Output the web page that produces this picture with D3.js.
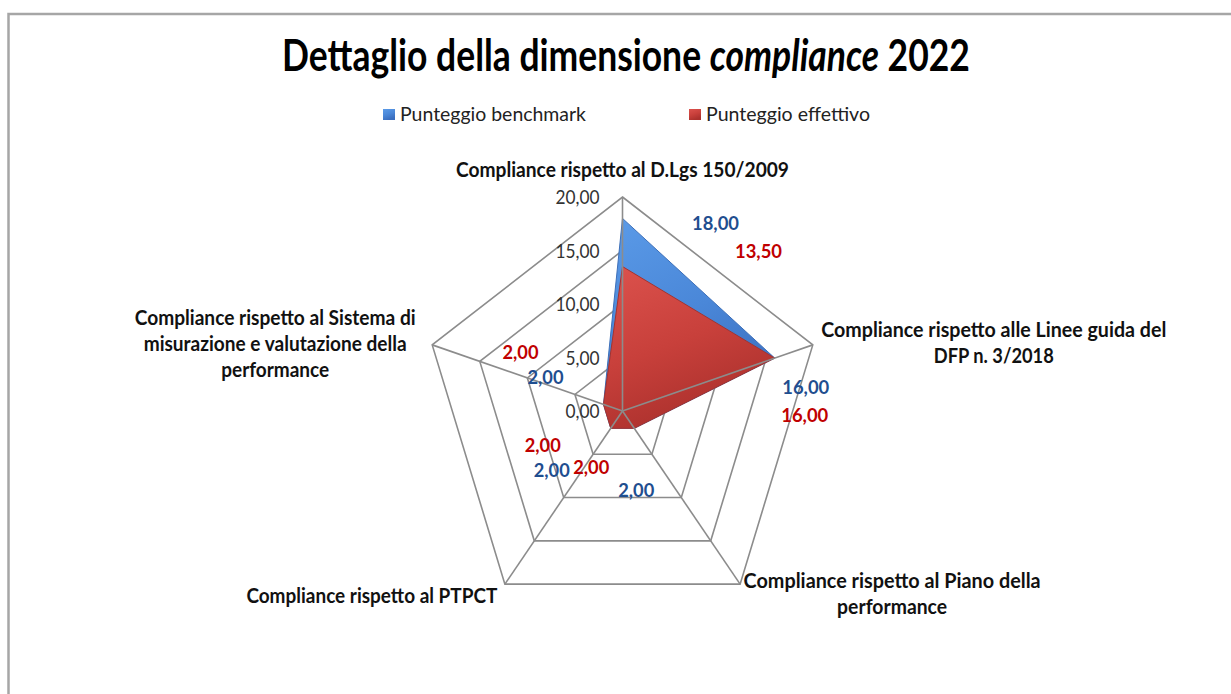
<!DOCTYPE html>
<html>
<head>
<meta charset="utf-8">
<script src="https://cdn.jsdelivr.net/npm/d3@7"></script>
<style>
  body { margin: 0; background: #fff; }
  text { font-family: Lato, "Open Sans", sans-serif; }
</style>
</head>
<body>
<div id="canvas"></div>
<script>
// categories (one entry per axis, already split in lines as in the picture)
const categories = [
  ["Compliance rispetto al D.Lgs 150/2009"],
  ["Compliance rispetto alle Linee guida del", "DFP n. 3/2018"],
  ["Compliance rispetto al Piano della", "performance"],
  ["Compliance rispetto al PTPCT"],
  ["Compliance rispetto al Sistema di", "misurazione e valutazione della", "performance"]
];
const seriesNames = ["Punteggio benchmark", "Punteggio effettivo"];
const benchmark = [18, 16, 2, 2, 2];
const effettivo = [13.5, 16, 2, 2, 2];
const tickValues = [0, 5, 10, 15, 20];

const W = 1231, H = 694;
const cx = 622.5, cy = 411, R = 214, sx = 0.935;
const fmt = v => d3.format(".2f")(v).replace(".", ",");

let svg = d3.select("#canvas")
  .append("svg")
    .attr("width", W)
    .attr("height", H);

let defs = svg.append("defs");
function grad(id, c1, c2, c3) {
  let g = defs.append("linearGradient").attr("id", id)
    .attr("x1", 0).attr("y1", 0).attr("x2", 0.4).attr("y2", 1);
  g.append("stop").attr("offset", "0%").attr("stop-color", c1);
  g.append("stop").attr("offset", "55%").attr("stop-color", c2);
  g.append("stop").attr("offset", "100%").attr("stop-color", c3);
}
grad("gBlue", "#5b9be8", "#4a87d8", "#3a6ebf");
grad("gRed", "#dc524d", "#c8403b", "#ac312d");

// frame
svg.append("rect")
  .attr("x", 8.5).attr("y", 14)
  .attr("width", W).attr("height", H)
  .attr("fill", "none").attr("stroke", "#a6a6a6").attr("stroke-width", 2.5);

// title: natural font, then squeezed to the reference width
let title = svg.append("text")
  .attr("x", 0).attr("y", 0)
  .attr("text-anchor", "middle")
  .attr("font-size", 44).attr("font-weight", "bold").attr("fill", "#000");
title.append("tspan").text("Dettaglio della dimensione ");
title.append("tspan").attr("font-style", "italic").text("compliance");
title.append("tspan").text(" 2022");
let tw = title.node().getComputedTextLength();
title.attr("transform", `translate(626,71) scale(${688 / tw},1)`);

// legend
const legendX = [383, 689];
const legendW = [186, 164];
const legendFill = ["url(#gBlue)", "url(#gRed)"];
seriesNames.forEach((s, i) => {
  svg.append("rect")
    .attr("x", legendX[i]).attr("y", 109)
    .attr("width", 12).attr("height", 11)
    .attr("fill", legendFill[i]);
  svg.append("text")
    .attr("x", legendX[i] + 17).attr("y", 121)
    .attr("font-size", 20).attr("fill", "#222")
    .attr("textLength", legendW[i]).attr("lengthAdjust", "spacingAndGlyphs")
    .text(s);
});

// scales
let r = d3.scaleLinear().domain([0, 20]).range([0, R]);
let angle = d3.scaleLinear().domain([0, categories.length]).range([0, 2 * Math.PI]);
function pt(i, v) {
  let a = angle(i);
  return [cx + sx * r(v) * Math.sin(a), cy - r(v) * Math.cos(a)];
}

let radar = svg.append("g");
let idx = d3.range(categories.length);

// rings
let line = d3.line().curve(d3.curveLinearClosed);
radar.selectAll("path.ring")
  .data(tickValues.filter(t => t > 0))
  .enter()
  .append("path")
    .attr("class", "ring")
    .attr("d", t => line(idx.map(i => pt(i, t))))
    .attr("fill", "none")
    .attr("stroke", "#8c8c8c")
    .attr("stroke-width", 1.6);

// series
const series = [
  {vals: benchmark, fill: "url(#gBlue)", edge: "#3d6fb8", color: "#1f4e8f"},
  {vals: effettivo, fill: "url(#gRed)", edge: "#a33330", color: "#c00000"}
];
series.forEach(s => {
  radar.append("path")
    .attr("d", line(s.vals.map((v, i) => pt(i, v))))
    .attr("fill", s.fill)
    .attr("stroke", s.edge)
    .attr("stroke-width", 1)
    .attr("stroke-linejoin", "round");
});

// spokes
radar.selectAll("line.spoke")
  .data(idx)
  .enter()
  .append("line")
    .attr("x1", cx).attr("y1", cy)
    .attr("x2", i => pt(i, 20)[0])
    .attr("y2", i => pt(i, 20)[1])
    .attr("stroke", "#8c8c8c")
    .attr("stroke-width", 1.6);

// tick labels
svg.selectAll("text.tick")
  .data(tickValues)
  .enter()
  .append("text")
    .attr("x", cx - 23)
    .attr("y", t => cy - r(t) + 7)
    .attr("text-anchor", "end")
    .attr("font-size", 19)
    .attr("fill", "#333")
    .attr("textLength", t => t >= 10 ? 44 : 34)
    .attr("lengthAdjust", "spacingAndGlyphs")
    .text(fmt);

// data labels (offsets from the point, like Excel placed them)
const labelOffsets = [
  [[93, 5], [31, 29], [2, 62], [-59, 42], [-58, -27]],
  [[136, -16], [30, 57], [-43, 39], [-68, 17], [-83, -52]]
];
series.forEach((s, k) => {
  svg.selectAll(null)
    .data(s.vals)
    .enter()
    .append("text")
      .attr("x", (v, i) => pt(i, v)[0] + labelOffsets[k][i][0])
      .attr("y", (v, i) => pt(i, v)[1] + labelOffsets[k][i][1] + 7)
      .attr("text-anchor", "middle")
      .attr("font-size", 19)
      .attr("font-weight", "bold")
      .attr("fill", s.color)
      .attr("textLength", v => v >= 10 ? 47 : 36)
      .attr("lengthAdjust", "spacingAndGlyphs")
      .text(fmt);
});

// category labels
const catLayout = [
  {dx: 0, dy: -20, w: [333]},
  {dx: 181, dy: -8, w: [345, 120]},
  {dx: 152, dy: 4, w: [297, 110]},
  {dx: -133, dy: 19, w: [251]},
  {dx: -157, dy: -20, w: [281, 263, 108]}
];
categories.forEach((lines, i) => {
  let p = pt(i, 20), L = catLayout[i];
  lines.forEach((ln, j) => {
    svg.append("text")
      .attr("x", p[0] + L.dx)
      .attr("y", p[1] + L.dy + j * 26)
      .attr("text-anchor", "middle")
      .attr("font-size", 20)
      .attr("font-weight", "bold")
      .attr("fill", "#111")
      .attr("textLength", L.w[j]).attr("lengthAdjust", "spacingAndGlyphs")
      .text(ln);
  });
});
</script>
</body>
</html>
